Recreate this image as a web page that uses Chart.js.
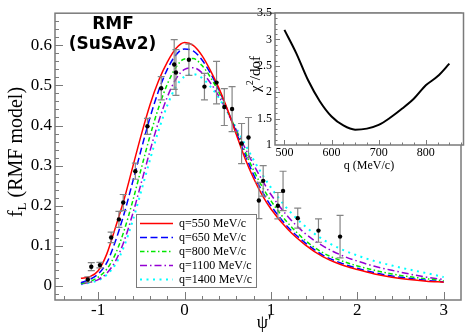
<!DOCTYPE html>
<html>
<head>
<meta charset="utf-8">
<script src="https://cdn.jsdelivr.net/npm/chart.js@4.4.0/dist/chart.umd.min.js"></script>
<style>
html, body { margin: 0; padding: 0; background: #fff; overflow: hidden; }
#wrap { position: relative; width: 465px; height: 334px; }
#main { position: absolute; left: 0; top: 0; }
#inset { position: absolute; left: 200px; top: 0; }
</style>
</head>
<body>
<div id="wrap">
  <canvas id="main" width="465" height="334" style="width:465px;height:334px"></canvas>
  <canvas id="inset" width="265" height="180" style="width:265px;height:180px"></canvas>
</div>
<script>
// psi' grid used by the five model curves
const psi = [-1.2, -1.1, -1.0, -0.9, -0.8, -0.7, -0.6, -0.5, -0.4, -0.3, -0.2, -0.1, 0,
  0.1, 0.2, 0.3, 0.4, 0.5, 0.6, 0.7, 0.8, 0.9, 1.0, 1.2, 1.4, 1.6, 1.8, 2.0, 2.2, 2.4, 2.6, 2.8, 3.0];

const f550 = [0.019, 0.023, 0.038, 0.080, 0.146, 0.216, 0.297, 0.378, 0.452, 0.512, 0.558, 0.592, 0.607,
  0.600, 0.575, 0.537, 0.492, 0.438, 0.377, 0.318, 0.268, 0.226, 0.192, 0.140, 0.102, 0.073, 0.054, 0.041, 0.030, 0.022, 0.016, 0.012, 0.0095];
const f650 = [0.008, 0.016, 0.030, 0.058, 0.112, 0.180, 0.260, 0.342, 0.420, 0.487, 0.540, 0.576, 0.591,
  0.586, 0.564, 0.530, 0.488, 0.437, 0.382, 0.327, 0.277, 0.235, 0.200, 0.146, 0.107, 0.077, 0.058, 0.044, 0.033, 0.025, 0.019, 0.014, 0.010];
const f800 = [0.006, 0.011, 0.022, 0.042, 0.080, 0.138, 0.212, 0.294, 0.374, 0.445, 0.503, 0.545, 0.566,
  0.567, 0.550, 0.520, 0.482, 0.436, 0.386, 0.335, 0.288, 0.247, 0.212, 0.156, 0.113, 0.083, 0.064, 0.050, 0.039, 0.030, 0.023, 0.018, 0.013];
const f1100 = [0.005, 0.009, 0.016, 0.032, 0.062, 0.112, 0.180, 0.258, 0.337, 0.410, 0.471, 0.516, 0.540,
  0.544, 0.532, 0.506, 0.472, 0.432, 0.388, 0.344, 0.302, 0.263, 0.228, 0.172, 0.130, 0.100, 0.078, 0.062, 0.049, 0.039, 0.030, 0.022, 0.016];
const f1400 = [0.004, 0.008, 0.014, 0.028, 0.054, 0.099, 0.163, 0.238, 0.315, 0.388, 0.450, 0.497, 0.522,
  0.528, 0.519, 0.497, 0.468, 0.432, 0.393, 0.353, 0.314, 0.278, 0.245, 0.190, 0.148, 0.116, 0.093, 0.076, 0.062, 0.051, 0.041, 0.032, 0.022];

const seriesNames = ['q=550 MeV/c', 'q=650 MeV/c', 'q=800 MeV/c', 'q=1100 MeV/c', 'q=1400 MeV/c'];
const seriesValues = [f550, f650, f800, f1100, f1400];

// experimental points with errors
const expPsi = [-1.12, -1.08, -0.98, -0.85, -0.76, -0.71, -0.57, -0.43, -0.27, -0.12, -0.10, 0.05,
  0.23, 0.37, 0.46, 0.55, 0.66, 0.74, 0.86, 0.91, 1.08, 1.14, 1.31, 1.55, 1.80];
const expF = [0.016, 0.048, 0.052, 0.121, 0.166, 0.208, 0.286, 0.398, 0.493, 0.552, 0.532, 0.564,
  0.497, 0.507, 0.446, 0.441, 0.355, 0.370, 0.213, 0.262, 0.200, 0.237, 0.169, 0.138, 0.123];
const expErr = [0.007, 0.010, 0.007, 0.013, 0.020, 0.020, 0.020, 0.020, 0.029, 0.062, 0.057, 0.039,
  0.033, 0.053, 0.046, 0.056, 0.050, 0.050, 0.045, 0.038, 0.033, 0.049, 0.025, 0.029, 0.053];

// inset: chi^2/dof against q
const qVals = [500, 525, 550, 575, 600, 625, 650, 675, 700, 725, 750, 775, 800, 825, 850];
const chi2 = [3.18, 2.74, 2.23, 1.83, 1.54, 1.37, 1.29, 1.31, 1.38, 1.52, 1.69, 1.88, 2.13, 2.30, 2.54];

const xTicks = [-1, 0, 1, 2, 3];
const yTicks = [0, 0.1, 0.2, 0.3, 0.4, 0.5, 0.6];
const qTicks = [500, 600, 700, 800];
const chiTicks = [1, 1.5, 2, 2.5, 3, 3.5];

const colors = ['#ff0000', '#0000ff', '#00e600', '#9400d3', '#00ffff'];
const dashes = [[], [7, 3.5], [4.5, 2.5, 1.5, 2.5], [7, 3, 1.5, 3], [2, 4.5]];
const widths = [1.5, 1.5, 1.5, 1.5, 2];

const serif = "'Liberation Serif', 'Times New Roman', serif";
const gray = '#7a7a7a';

function ticksInward(chart, xStep, yStep, xMaj, yMaj, majLen, minLen) {
  const { ctx, chartArea: a, scales: { x, y } } = chart;
  ctx.save();
  ctx.strokeStyle = gray;
  ctx.lineWidth = 1.5;
  ctx.strokeRect(a.left, a.top, a.right - a.left, a.bottom - a.top);
  ctx.lineWidth = 1;
  ctx.beginPath();
  for (let k = Math.ceil(x.min / xStep); k * xStep <= x.max + 1e-9; k++) {
    const v = k * xStep;
    const px = Math.round(x.getPixelForValue(v)) + 0.5;
    if (px <= a.left + 1 || px >= a.right - 1) continue;
    const len = xMaj.some(t => Math.abs(t - v) < 1e-6) ? majLen : minLen;
    ctx.moveTo(px, a.bottom);
    ctx.lineTo(px, a.bottom - len);
  }
  for (let k = Math.ceil(y.min / yStep); k * yStep <= y.max + 1e-9; k++) {
    const v = k * yStep;
    const py = Math.round(y.getPixelForValue(v)) + 0.5;
    if (py <= a.top + 1 || py >= a.bottom - 1) continue;
    const len = yMaj.some(t => Math.abs(t - v) < 1e-6) ? majLen : minLen;
    ctx.moveTo(a.left, py);
    ctx.lineTo(a.left + len, py);
  }
  ctx.stroke();
  ctx.restore();
}

const mainExtras = {
  id: 'mainExtras',
  beforeDatasetDraw(chart, args) {
    if (args.index !== 0) return;
    const { ctx, scales: { x, y } } = chart;
    ctx.save();
    ctx.strokeStyle = '#858585';
    ctx.lineWidth = 1.2;
    ctx.beginPath();
    expPsi.forEach((p, i) => {
      const px = x.getPixelForValue(p);
      const top = y.getPixelForValue(expF[i] + expErr[i]);
      const bot = y.getPixelForValue(expF[i] - expErr[i]);
      ctx.moveTo(px, top); ctx.lineTo(px, bot);
      ctx.moveTo(px - 3.5, top); ctx.lineTo(px + 3.5, top);
      ctx.moveTo(px - 3.5, bot); ctx.lineTo(px + 3.5, bot);
    });
    ctx.stroke();
    ctx.restore();
  },
  afterDraw(chart) {
    const ctx = chart.ctx;
    ticksInward(chart, 0.2, 0.02, xTicks, yTicks, 8, 4);

    // legend
    ctx.save();
    ctx.fillStyle = '#fff';
    ctx.fillRect(136, 214, 121, 73);
    ctx.strokeStyle = gray;
    ctx.lineWidth = 1;
    ctx.strokeRect(136.5, 214.5, 120, 73);
    ctx.font = '12px ' + serif;
    ctx.textBaseline = 'middle';
    ctx.fillStyle = '#000';
    seriesNames.forEach((name, i) => {
      const ds = chart.data.datasets[i + 1];
      const yy = 223.5 + i * 14;
      ctx.beginPath();
      ctx.strokeStyle = ds.borderColor;
      ctx.lineWidth = ds.borderWidth;
      ctx.setLineDash(ds.borderDash);
      ctx.moveTo(140, yy); ctx.lineTo(173, yy);
      ctx.stroke();
      ctx.setLineDash([]);
      ctx.fillText(name, 179, yy + 0.5);
    });
    ctx.restore();

    // titles
    ctx.save();
    ctx.fillStyle = '#000';
    ctx.textAlign = 'center';
    ctx.font = 'bold 17px "DejaVu Sans", sans-serif';
    ctx.fillText('RMF', 113, 28.5);
    ctx.fillText('(SuSAv2)', 112.5, 49);
    ctx.font = '18px ' + serif;
    ctx.fillText("ψ'", 264, 328);
    ctx.restore();

    // y axis title with subscript
    ctx.save();
    ctx.translate(22, 152);
    ctx.rotate(-Math.PI / 2);
    ctx.fillStyle = '#000';
    ctx.textBaseline = 'alphabetic';
    ctx.textAlign = 'left';
    const big = '20px ' + serif, small = '13px ' + serif;
    ctx.font = big; const wf = ctx.measureText('f').width;
    const wr = ctx.measureText(' (RMF model)').width;
    ctx.font = small; const wl = ctx.measureText('L').width;
    let sx = -(wf + wl + wr) / 2;
    ctx.font = big; ctx.fillText('f', sx, 0); sx += wf;
    ctx.font = small; ctx.fillText('L', sx, 4); sx += wl;
    ctx.font = big; ctx.fillText(' (RMF model)', sx, 0);
    ctx.restore();
  }
};

const curveSets = seriesValues.map((vals, i) => ({
  label: seriesNames[i],
  data: psi.map((p, j) => ({ x: p, y: vals[j] })),
  borderColor: colors[i],
  borderWidth: widths[i],
  borderDash: dashes[i],
  pointRadius: 0,
  fill: false,
  cubicInterpolationMode: 'monotone'
}));

new Chart(document.getElementById('main'), {
  type: 'line',
  data: {
    datasets: [{
      label: 'data',
      data: expPsi.map((p, i) => ({ x: p, y: expF[i] })),
      showLine: false,
      pointRadius: 2.2,
      pointBackgroundColor: '#000',
      pointBorderWidth: 0
    }, ...curveSets]
  },
  options: {
    responsive: false,
    animation: false,
    devicePixelRatio: 1,
    layout: { padding: { top: 5, right: 1, left: 0, bottom: 0 } },
    plugins: { legend: { display: false }, tooltip: { enabled: false } },
    scales: {
      x: {
        type: 'linear', min: -1.5, max: 3.2,
        grid: { display: false, drawTicks: false },
        border: { display: false },
        afterBuildTicks: s => { s.ticks = xTicks.map(v => ({ value: v })); },
        afterFit: s => { s.height = 34; },
        ticks: { font: { family: serif, size: 17 }, color: '#000', padding: 0, maxRotation: 0, callback: v => String(v) }
      },
      y: {
        type: 'linear', min: -0.035, max: 0.68,
        grid: { display: false, drawTicks: false },
        border: { display: false },
        afterBuildTicks: s => { s.ticks = yTicks.map(v => ({ value: v })); },
        afterFit: s => { s.width = 55; },
        ticks: { font: { family: serif, size: 17 }, color: '#000', padding: 3, callback: v => String(v) }
      }
    }
  },
  plugins: [mainExtras]
});

const insetExtras = {
  id: 'insetExtras',
  beforeDatasetsDraw(chart) {
    const { ctx, chartArea: a } = chart;
    ctx.save();
    ctx.fillStyle = '#fff';
    ctx.fillRect(a.left, a.top, a.right - a.left, a.bottom - a.top);
    ctx.restore();
  },
  afterDraw(chart) {
    const ctx = chart.ctx;
    ticksInward(chart, 25, 0.1, qTicks, chiTicks, 5, 2.5);
    ctx.save();
    ctx.fillStyle = '#000';
    ctx.textAlign = 'center';
    ctx.font = '12px ' + serif;
    ctx.fillText('q (MeV/c)', 169, 169);
    ctx.translate(60, 74);
    ctx.rotate(-Math.PI / 2);
    ctx.textAlign = 'left';
    const big = '15px ' + serif, small = '10px ' + serif;
    ctx.font = big; const w1 = ctx.measureText('χ').width, w3 = ctx.measureText('/dof').width;
    ctx.font = small; const w2 = ctx.measureText('2').width;
    let sx = -(w1 + w2 + w3) / 2;
    ctx.font = big; ctx.fillText('χ', sx, 0); sx += w1;
    ctx.font = small; ctx.fillText('2', sx, -7); sx += w2;
    ctx.font = big; ctx.fillText('/dof', sx, 0);
    ctx.restore();
  }
};

new Chart(document.getElementById('inset'), {
  type: 'line',
  data: {
    datasets: [{
      label: 'chi2',
      data: qVals.map((q, i) => ({ x: q, y: chi2[i] })),
      borderColor: '#000',
      borderWidth: 2,
      pointRadius: 0,
      fill: false,
      cubicInterpolationMode: 'monotone'
    }]
  },
  options: {
    responsive: false,
    animation: false,
    devicePixelRatio: 1,
    layout: { padding: { top: 13, right: 1.5, left: 0, bottom: 0 } },
    plugins: { legend: { display: false }, tooltip: { enabled: false } },
    scales: {
      x: {
        type: 'linear', min: 480, max: 880,
        grid: { display: false, drawTicks: false },
        border: { display: false },
        afterBuildTicks: s => { s.ticks = qTicks.map(v => ({ value: v })); },
        afterFit: s => { s.height = 35; },
        ticks: { font: { family: serif, size: 12 }, color: '#000', padding: 1, maxRotation: 0, callback: v => String(v) }
      },
      y: {
        type: 'linear', min: 1, max: 3.5,
        grid: { display: false, drawTicks: false },
        border: { display: false },
        afterBuildTicks: s => { s.ticks = chiTicks.map(v => ({ value: v })); },
        afterFit: s => { s.width = 75; },
        ticks: { font: { family: serif, size: 12 }, color: '#000', padding: 3, callback: v => String(v) }
      }
    }
  },
  plugins: [insetExtras]
});
</script>
</body>
</html>
